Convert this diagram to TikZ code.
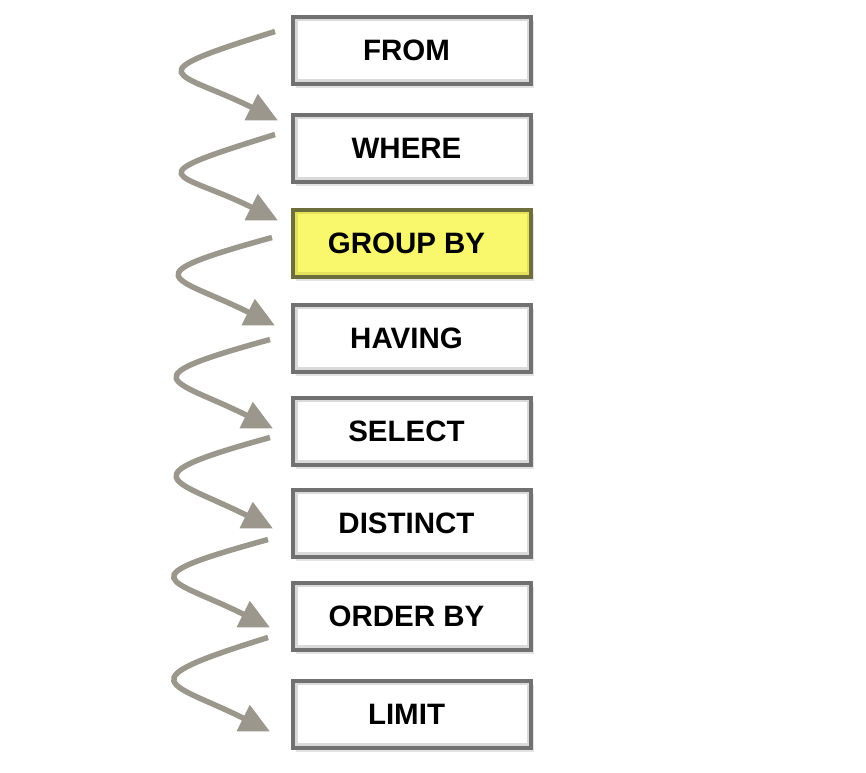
\documentclass[tikz,border=0pt]{standalone}
\usepackage{fontspec}
\setmainfont{Liberation Sans}
\usetikzlibrary{arrows.meta,shadows}
\definecolor{boxborder}{HTML}{717171}
\definecolor{boxglow}{HTML}{DADADA}
\definecolor{flowcol}{HTML}{9B978D}
\definecolor{hlfill}{HTML}{F9F86C}
\definecolor{hlborder}{HTML}{6E6D3C}
\definecolor{hlglow}{HTML}{E4E25A}
\tikzset{
  stepbox/.style={draw=boxborder, line width=4pt, fill=white,
    minimum width=238pt, minimum height=67pt, inner sep=0pt,
    font=\fontsize{29.5}{29.5}\selectfont\bfseries,
    execute at begin node={\hspace*{-11pt}},
    drop shadow={opacity=0.22, shadow xshift=3pt, shadow yshift=-4pt},
    path picture={\draw[boxglow, line width=9pt]
      (path picture bounding box.south west) rectangle (path picture bounding box.north east);}},
  hlbox/.style={stepbox, draw=hlborder, fill=hlfill,
    path picture={\draw[hlglow, line width=9pt]
      (path picture bounding box.south west) rectangle (path picture bounding box.north east);}},
  flow/.style={draw=flowcol, line width=5.5pt,
    -{Triangle[length=30pt,width=28pt]}}
}
\begin{document}
\begin{tikzpicture}[x=1pt,y=-1pt]
\useasboundingbox (0,0) rectangle (866,772);
\node[stepbox] (from)     at (412,50)  {FROM};
\node[stepbox] (where)    at (412,148) {WHERE};
\node[hlbox]   (group)    at (412,243) {GROUP BY};
\node[stepbox] (having)   at (412,338) {HAVING};
\node[stepbox] (select)   at (412,431) {SELECT};
\node[stepbox] (distinct) at (412,523) {DISTINCT};
\node[stepbox] (order)    at (412,616) {ORDER BY};
\node[stepbox] (limit)    at (412,714) {LIMIT};
\draw[flow] ([shift={(-16pt,-17pt)}]from.north west)
  .. controls +(-145pt,-45pt) and +(-100pt,50pt) .. ([shift={(-13pt,-8pt)}]where.north west);
\draw[flow] ([shift={(-16pt,-22pt)}]where.north west)
  .. controls +(-145pt,-45pt) and +(-100pt,50pt) .. ([shift={(-13pt,-13pt)}]group.north west);
\draw[flow] ([shift={(-19pt,-30pt)}]group.north west)
  .. controls +(-145pt,-40pt) and +(-100pt,50pt) .. ([shift={(-16pt,-23pt)}]having.north west);
\draw[flow] ([shift={(-21pt,-37pt)}]having.north west)
  .. controls +(-145pt,-40pt) and +(-100pt,50pt) .. ([shift={(-18pt,-33pt)}]select.north west);
\draw[flow] ([shift={(-21pt,-42pt)}]select.north west)
  .. controls +(-145pt,-40pt) and +(-100pt,50pt) .. ([shift={(-18pt,-41pt)}]distinct.north west);
\draw[flow] ([shift={(-23pt,-52pt)}]distinct.north west)
  .. controls +(-145pt,-40pt) and +(-100pt,50pt) .. ([shift={(-21pt,-47pt)}]order.north west);
\draw[flow] ([shift={(-23pt,-57pt)}]order.north west)
  .. controls +(-145pt,-45pt) and +(-100pt,50pt) .. ([shift={(-21pt,-53pt)}]limit.north west);
\end{tikzpicture}
\end{document}
